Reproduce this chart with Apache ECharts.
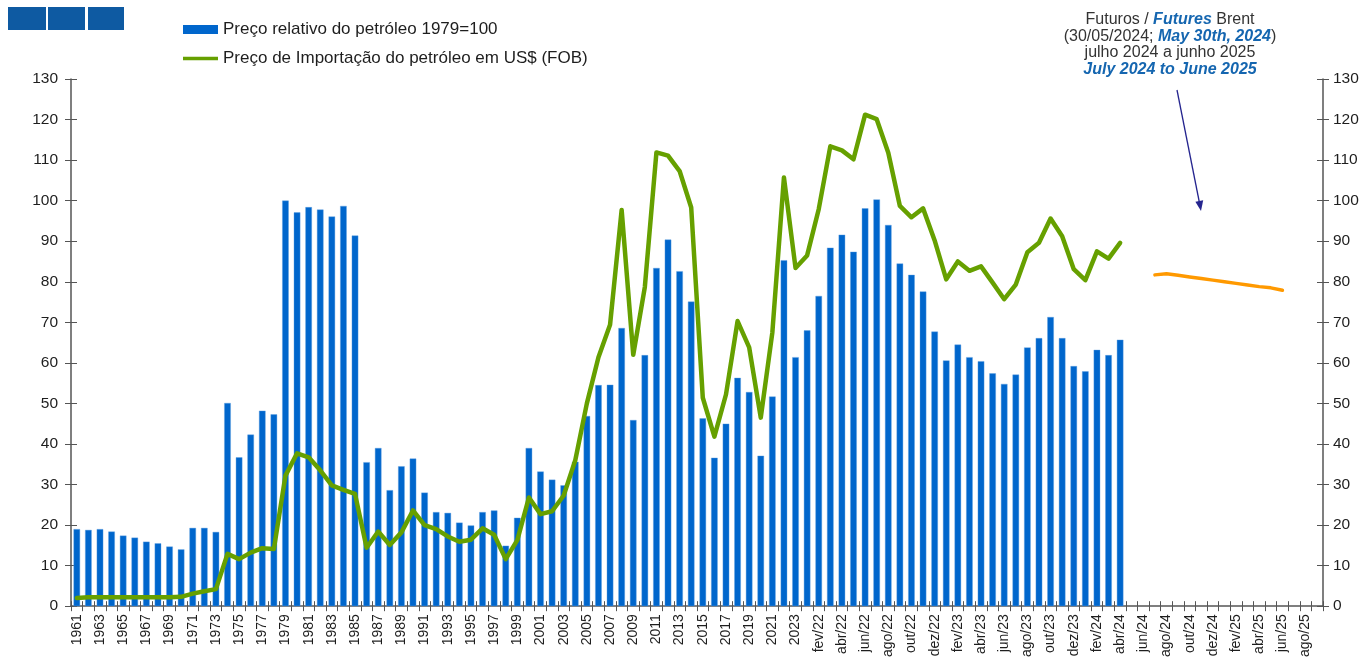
<!DOCTYPE html>
<html>
<head>
<meta charset="utf-8">
<title>Preço do petróleo</title>
<script src="https://cdn.jsdelivr.net/npm/echarts@6/dist/echarts.min.js"></script>
<style>
  html, body { margin: 0; padding: 0; background: #ffffff; }
  #chart { width: 1371px; height: 660px; }
</style>
</head>
<body>
<div id="chart"></div>
<script>
// Annual categories 1961–2023
const annualYears = [
  '1961','1962','1963','1964','1965','1966','1967','1968','1969','1970',
  '1971','1972','1973','1974','1975','1976','1977','1978','1979','1980',
  '1981','1982','1983','1984','1985','1986','1987','1988','1989','1990',
  '1991','1992','1993','1994','1995','1996','1997','1998','1999','2000',
  '2001','2002','2003','2004','2005','2006','2007','2008','2009','2010',
  '2011','2012','2013','2014','2015','2016','2017','2018','2019','2020',
  '2021','2022','2023'
];
// Monthly categories jan/22 – set/25
const monthlyLabels = [
  'jan/22','fev/22','mar/22','abr/22','mai/22','jun/22','jul/22','ago/22','set/22','out/22','nov/22','dez/22',
  'jan/23','fev/23','mar/23','abr/23','mai/23','jun/23','jul/23','ago/23','set/23','out/23','nov/23','dez/23',
  'jan/24','fev/24','mar/24','abr/24','mai/24','jun/24','jul/24','ago/24','set/24','out/24','nov/24','dez/24',
  'jan/25','fev/25','mar/25','abr/25','mai/25','jun/25','jul/25','ago/25','set/25'
];

// Relative oil price (1979 = 100), annual
const relPriceAnnual = [
  19.0, 18.8, 19.0, 18.4, 17.4, 16.9, 15.9, 15.5, 14.7, 14.0,
  19.3, 19.3, 18.3, 50.1, 36.7, 42.3, 48.2, 47.3, 100.0, 97.1,
  98.4, 97.8, 96.1, 98.7, 91.4, 35.5, 39.0, 28.6, 34.5, 36.4,
  28.0, 23.2, 23.0, 20.6, 19.9, 23.2, 23.6, 14.9, 21.8, 39.0,
  33.2, 31.2, 29.8, 35.6, 46.9, 54.5, 54.6, 68.6, 45.9, 61.9,
  83.4, 90.4, 82.6, 75.1, 46.3, 36.6, 45.0, 56.3, 52.8, 37.1,
  51.7, 85.3, 61.4
];
// Relative oil price, monthly jan/22 – abr/24
const relPriceMonthly = [
  68.0, 76.5, 88.4, 91.6, 87.4, 98.1, 100.3, 94.0, 84.5, 81.7, 77.6, 67.7,
  60.6, 64.5, 61.4, 60.4, 57.4, 54.8, 57.1, 63.8, 66.1, 71.3, 66.1, 59.2,
  57.9, 63.2, 61.9, 65.7
];

// Oil import price in US$ (FOB), annual
const importPriceAnnual = [
  2.0, 2.2, 2.2, 2.2, 2.2, 2.2, 2.2, 2.2, 2.2, 2.3,
  3.1, 3.7, 4.2, 12.9, 11.6, 13.2, 14.3, 14.1, 32.2, 37.7,
  36.7, 33.5, 29.8, 28.7, 27.7, 14.4, 18.4, 15.1, 18.2, 23.6,
  20.0, 19.0, 17.2, 15.9, 16.4, 19.2, 17.6, 11.6, 16.3, 26.8,
  22.7, 23.4, 27.3, 36.0, 50.0, 61.4, 69.4, 97.7, 62.0, 78.7,
  111.9, 111.1, 107.3, 98.3, 51.4, 41.8, 52.2, 70.3, 63.8, 46.5,
  67.5, 105.7, 83.4
];
// Oil import price in US$ (FOB), monthly jan/22 – abr/24
const importPriceMonthly = [
  86.5, 97.9, 113.4, 112.4, 110.2, 121.2, 120.1, 111.8, 98.7, 95.9, 98.1, 90.2,
  80.6, 85.0, 82.7, 83.8, 79.8, 75.7, 79.3, 87.3, 89.6, 95.6, 91.2, 83.1,
  80.4, 87.5, 85.7, 89.6
];

// Brent futures (30/05/2024), jul/24 – jun/25
const futuresStart = 'jul/24';
const brentFutures = [81.7, 82.0, 81.6, 81.2, 80.8, 80.4, 80.0, 79.6, 79.2, 78.8, 78.5, 77.9];

// Y-axis scale
const yMin = 0, yMax = 130, yStep = 10;

// ---- build series data aligned on the full category list ----
const categories = annualYears.concat(monthlyLabels);
const n = categories.length;
function padTo(arr, len) {
  const out = arr.slice();
  while (out.length < len) out.push(null);
  return out;
}
const relSeries = padTo(relPriceAnnual.concat(relPriceMonthly), n);
const importSeries = padTo(importPriceAnnual.concat(importPriceMonthly), n);
const futStartIdx = categories.indexOf(futuresStart);
const futSeries = [];
for (let i = 0; i < n; i++) {
  const k = i - futStartIdx;
  futSeries.push(k >= 0 && k < brentFutures.length ? brentFutures[k] : null);
}

const NAME_BAR = 'Preço relativo do petróleo 1979=100';
const NAME_LINE = 'Preço de Importação do petróleo em US$ (FOB)';
const FONT = '"Liberation Sans", Arial, sans-serif';
const AXIS_COLOR = '#555555';
const TEXT_COLOR = '#1e1e1e';
const BLUE_TXT = '#1566b0';

const chart = echarts.init(document.getElementById('chart'), null, { renderer: 'canvas' });

const yBase = { type: 'value', min: yMin, max: yMax, interval: yStep, splitLine: { show: false } };

chart.setOption({
  animation: false,
  backgroundColor: '#ffffff',
  textStyle: { fontFamily: FONT },
  grid: { left: 71, right: 48, top: 79, bottom: 50, containLabel: false },
  legend: {
    orient: 'vertical',
    left: 178,
    top: 16,
    itemWidth: 35,
    itemHeight: 9,
    itemGap: 12,
    textStyle: { fontFamily: FONT, fontSize: 17, color: TEXT_COLOR },
    data: [
      { name: NAME_BAR, icon: 'rect', itemStyle: { borderWidth: 0 } },
      // thin line swatch inside a 35×9 box
      { name: NAME_LINE, icon: 'path://M0,0M35,9M0,2.8H35V6.2H0Z' }
    ]
  },
  xAxis: [
    {
      type: 'category',
      position: 'bottom',
      data: categories,
      boundaryGap: true,
      axisLine: { lineStyle: { color: AXIS_COLOR, width: 1.5 } },
      axisTick: { show: true, length: 5, interval: 0, lineStyle: { color: AXIS_COLOR } },
      axisLabel: {
        interval: 1,
        rotate: 90,
        margin: 8,
        fontSize: 14,
        color: TEXT_COLOR,
        fontFamily: FONT
      }
    },
    {
      type: 'category',
      position: 'bottom',
      data: categories,
      boundaryGap: true,
      axisLine: { show: false },
      axisTick: { show: true, inside: true, length: 5, interval: 0, lineStyle: { color: AXIS_COLOR } },
      axisLabel: { show: false }
    }
  ],
  yAxis: [
    Object.assign({}, yBase, {
      position: 'left',
      axisLine: { show: true, lineStyle: { color: AXIS_COLOR, width: 1.5 } },
      axisTick: { show: true, length: 6, lineStyle: { color: AXIS_COLOR } },
      axisLabel: { margin: 13, fontSize: 15.5, color: TEXT_COLOR, fontFamily: FONT }
    }),
    Object.assign({}, yBase, {
      position: 'right',
      axisLine: { show: true, lineStyle: { color: AXIS_COLOR, width: 1.5 } },
      axisTick: { show: true, length: 6, lineStyle: { color: AXIS_COLOR } },
      axisLabel: { margin: 10, fontSize: 15.5, color: TEXT_COLOR, fontFamily: FONT }
    }),
    Object.assign({}, yBase, {
      position: 'left',
      axisLine: { show: false },
      axisTick: { show: true, inside: true, length: 6, lineStyle: { color: AXIS_COLOR } },
      axisLabel: { show: false }
    }),
    Object.assign({}, yBase, {
      position: 'right',
      axisLine: { show: false },
      axisTick: { show: true, inside: true, length: 6, lineStyle: { color: AXIS_COLOR } },
      axisLabel: { show: false }
    })
  ],
  series: [
    {
      name: NAME_BAR,
      type: 'bar',
      xAxisIndex: 0,
      yAxisIndex: 0,
      data: relSeries,
      barWidth: 6.5,
      itemStyle: { color: '#0066CC', borderColor: '#5d9ee0', borderWidth: 0.4 },
      z: 2
    },
    {
      name: NAME_LINE,
      type: 'line',
      xAxisIndex: 0,
      yAxisIndex: 0,
      data: importSeries,
      symbol: 'none',
      connectNulls: false,
      lineStyle: { color: '#66A000', width: 4.5, join: 'round', cap: 'round' },
      itemStyle: { color: '#66A000' },
      z: 3
    },
    {
      name: 'Futuros Brent',
      type: 'line',
      xAxisIndex: 0,
      yAxisIndex: 0,
      data: futSeries,
      symbol: 'none',
      lineStyle: { color: '#FF9900', width: 3.5, join: 'round', cap: 'round' },
      itemStyle: { color: '#FF9900' },
      z: 3
    }
  ],
  graphic: [
    // header blocks
    { type: 'rect', left: 8, top: 7, shape: { width: 38, height: 23 }, style: { fill: '#0E5AA2' } },
    { type: 'rect', left: 48, top: 7, shape: { width: 37, height: 23 }, style: { fill: '#0E5AA2' } },
    { type: 'rect', left: 88, top: 7, shape: { width: 36, height: 23 }, style: { fill: '#0E5AA2' } },
    // futures note
    {
      type: 'text',
      x: 1170,
      y: 11,
      style: {
        text: '{n|Futuros / }{b|Futures}{n| Brent}\n{n|(30/05/2024; }{b|May 30th, 2024}{n|)}\n{n|julho 2024 a junho 2025}\n{b|July 2024 to June 2025}',
        align: 'center',
        verticalAlign: 'top',
        lineHeight: 16.8,
        rich: {
          n: { fontFamily: FONT, fontSize: 16, fill: '#333333', lineHeight: 16.8 },
          b: { fontFamily: FONT, fontSize: 16, fill: BLUE_TXT, fontWeight: 'bold', fontStyle: 'italic', lineHeight: 16.8 }
        }
      }
    },
    // pointer arrow
    {
      type: 'line',
      shape: { x1: 1177, y1: 90, x2: 1199.3, y2: 202 },
      style: { stroke: '#25258f', lineWidth: 1.3 }
    },
    {
      type: 'polygon',
      shape: { points: [[1201, 211], [1203.2, 200.2], [1195.4, 201.8]] },
      style: { fill: '#25258f' }
    }
  ]
});
</script>
</body>
</html>
